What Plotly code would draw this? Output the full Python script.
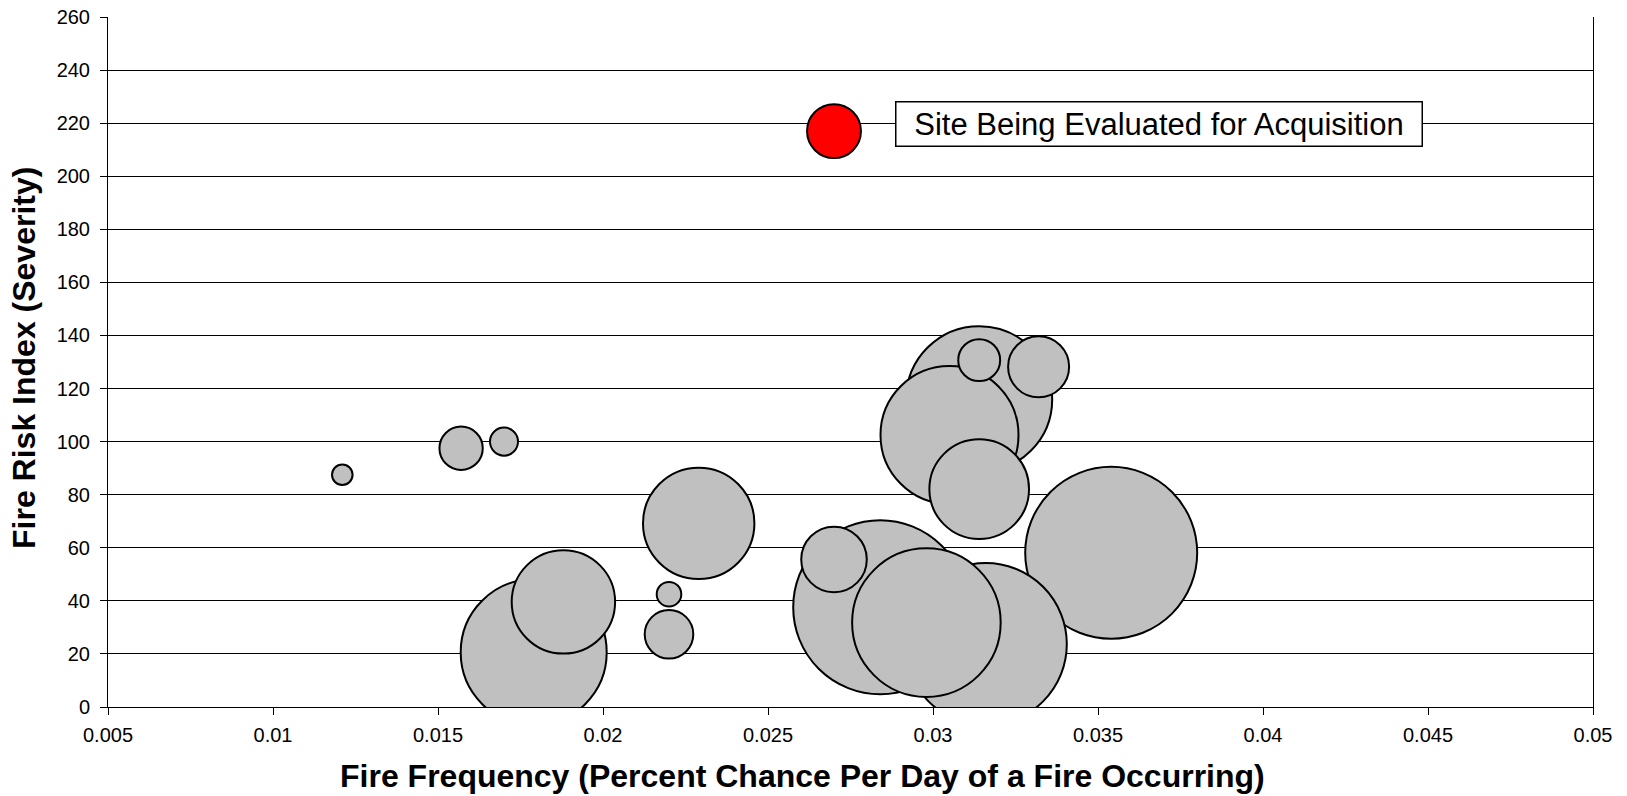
import plotly.graph_objects as go

# Comparable sites: daily fire frequency (%), fire risk index, and loss exposure (bubble area)
site_frequency = [0.0121, 0.0157, 0.0170, 0.0179, 0.0188, 0.0220, 0.0220, 0.0229, 0.0270,
                  0.0284, 0.0298, 0.0316, 0.0314, 0.0305, 0.0314, 0.0314, 0.0332, 0.0354]
site_risk_index = [87.5, 97.5, 100.0, 20.6, 39.6, 42.5, 27.4, 69.2, 55.6,
                   37.6, 31.8, 23.7, 116.0, 102.5, 82.1, 130.7, 128.2, 58.1]
site_exposure = [1.4, 6.2, 2.6, 70.4, 35.3, 2.0, 7.8, 41.0, 14.2,
                 100.0, 72.9, 86.7, 70.4, 62.9, 32.8, 5.8, 12.3, 97.7]

# Site under evaluation
target_frequency = [0.0270]
target_risk_index = [217.0]
target_exposure = [9.6]
target_label = "Site Being Evaluated for Acquisition"

# Axis ticks
x_tickvals = [0.005, 0.01, 0.015, 0.02, 0.025, 0.03, 0.035, 0.04, 0.045, 0.05]
x_ticktext = ["0.005", "0.01", "0.015", "0.02", "0.025", "0.03", "0.035", "0.04", "0.045", "0.05"]
y_tickvals = list(range(0, 261, 20))

FONT = "Liberation Sans, Arial, sans-serif"
MAX_RADIUS = 87  # px radius of the largest bubble
sizeref = max(site_exposure + target_exposure) / (2 * MAX_RADIUS ** 2)

# largest bubbles first so smaller ones stay visible on top
order = sorted(range(len(site_exposure)), key=lambda i: -site_exposure[i])

fig = go.Figure()
fig.add_trace(go.Scatter(
    x=[site_frequency[i] for i in order],
    y=[site_risk_index[i] for i in order],
    mode="markers",
    marker=dict(size=[site_exposure[i] for i in order], sizemode="area", sizeref=sizeref,
                color="#C0C0C0", opacity=1, line=dict(color="black", width=2)),
    hoverinfo="skip",
    showlegend=False,
))
fig.add_trace(go.Scatter(
    x=target_frequency,
    y=target_risk_index,
    mode="markers",
    marker=dict(size=target_exposure, sizemode="area", sizeref=sizeref,
                color="#FF0000", opacity=1, line=dict(color="black", width=2)),
    hoverinfo="skip",
    showlegend=False,
))

fig.add_annotation(
    x=target_frequency[0], y=target_risk_index[0], xref="x", yref="y",
    text=target_label, showarrow=False,
    xanchor="left", yanchor="middle", xshift=61, yshift=7,
    width=521, height=39, align="center",
    font=dict(family=FONT, size=31, color="black"),
    bgcolor="white", bordercolor="black", borderwidth=1.5, borderpad=2,
)

fig.add_annotation(
    x=0.468, y=-0.1, xref="paper", yref="paper",
    text="<b>Fire Frequency (Percent Chance Per Day of a Fire Occurring)</b>",
    showarrow=False, xanchor="center", yanchor="middle",
    font=dict(family=FONT, size=32, color="black"),
)
fig.add_annotation(
    x=-0.0565, y=0.506, xref="paper", yref="paper",
    text="<b>Fire Risk Index (Severity)</b>", textangle=-90,
    showarrow=False, xanchor="center", yanchor="middle",
    font=dict(family=FONT, size=32, color="black"),
)

fig.update_layout(
    width=1627, height=796,
    margin=dict(l=108, r=34, t=17, b=89, pad=0, autoexpand=False),
    paper_bgcolor="white", plot_bgcolor="white",
    font=dict(family=FONT, size=20, color="black"),
    hovermode=False,
    xaxis=dict(
        range=[0.005, 0.05], tickvals=x_tickvals, ticktext=x_ticktext,
        showgrid=False, zeroline=False, automargin=False,
        showline=True, linecolor="black", linewidth=1,
        ticks="outside", ticklen=7, tickcolor="black", tickwidth=1,
        tickfont=dict(family=FONT, size=20, color="black"),
        ticklabelstandoff=3,
    ),
    yaxis=dict(
        range=[0, 260], tickvals=y_tickvals,
        showgrid=True, gridcolor="black", gridwidth=1, zeroline=False, automargin=False,
        showline=True, linecolor="black", linewidth=1, mirror=True,
        ticks="outside", ticklen=7, tickcolor="black", tickwidth=1,
        tickfont=dict(family=FONT, size=20, color="black"),
        ticklabelstandoff=6,
    ),
)

fig.write_html("out.html", config={"displayModeBar": False})
